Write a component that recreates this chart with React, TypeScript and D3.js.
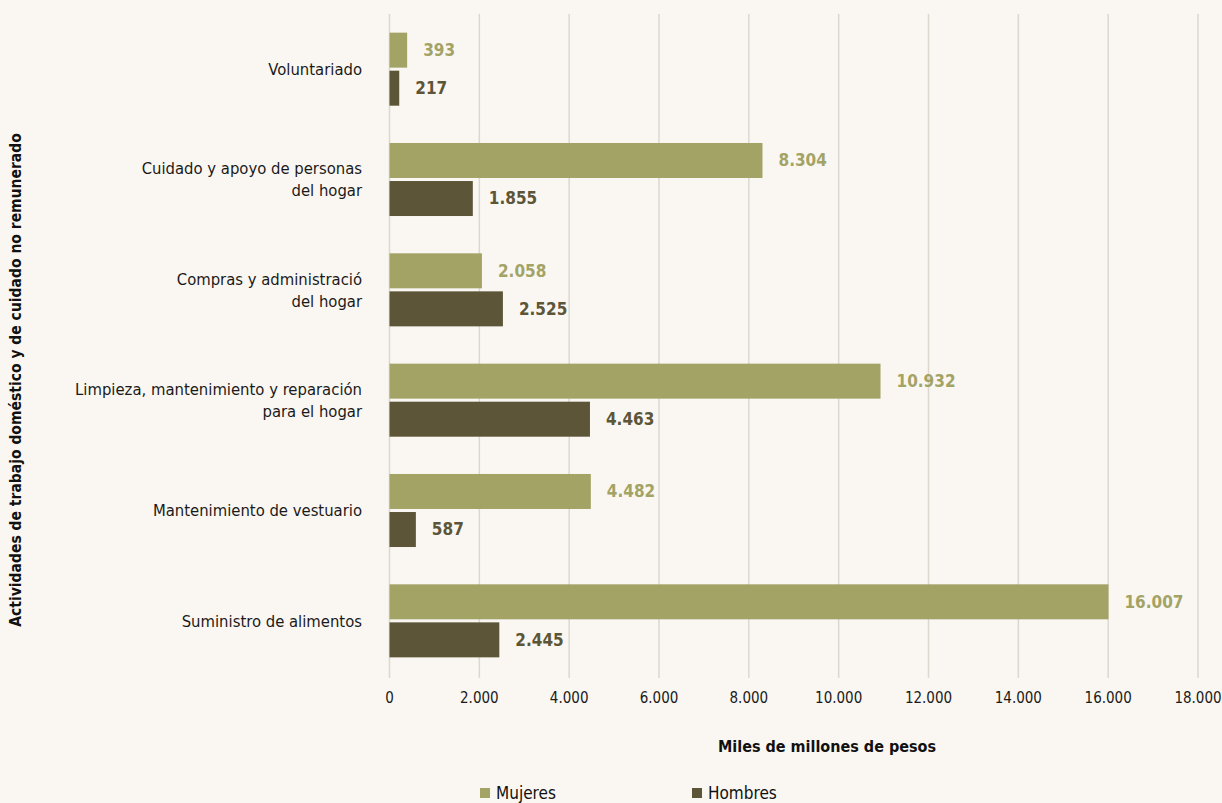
import React, { useEffect, useRef } from 'react';
import * as d3 from 'd3';

const categories = [
  'Voluntariado',
  'Cuidado y apoyo de personas\ndel hogar',
  'Compras y administració\ndel hogar',
  'Limpieza, mantenimiento y reparación\npara el hogar',
  'Mantenimiento de vestuario',
  'Suministro de alimentos',
];
const mujeres = [393, 8304, 2058, 10932, 4482, 16007];
const hombres = [217, 1855, 2525, 4463, 587, 2445];
const xTicks = [0, 2000, 4000, 6000, 8000, 10000, 12000, 14000, 16000, 18000];
const seriesNames = ['Mujeres', 'Hombres'];

const W = 1222;
const H = 803;
const FONT = "'Liberation Sans Narrow', 'DejaVu Sans Condensed', 'Roboto', sans-serif";
const GREEN = '#a3a366';
const DARK = '#5c5538';

const fmt = (v: number) => d3.format(',')(v).replace(/,/g, '.');

const App: React.FC = () => {
  const svgRef = useRef<SVGSVGElement>(null);

  useEffect(() => {
    if (!svgRef.current) return;
    const svg = d3.select(svgRef.current);
    svg.selectAll('*').remove();

    const left = 389.5;
    const right = 1198;
    const top = 14;
    const bottom = 676;

    svg.append('rect').attr('width', W).attr('height', H).attr('fill', '#faf7f2');

    const x = d3.scaleLinear().domain([0, 18000]).range([left, right]);
    const y = d3.scaleBand().domain(categories).range([top, bottom]).paddingInner(0.338).paddingOuter(0.169);
    const inner = d3.scaleBand().domain(seriesNames).range([0, y.bandwidth()]).paddingInner(0.08);

    // gridlines
    svg.append('g').selectAll('line').data(xTicks).join('line')
      .attr('x1', d => x(d)).attr('x2', d => x(d))
      .attr('y1', top).attr('y2', bottom + 2)
      .attr('stroke', '#dcd8d0').attr('stroke-width', 1.5);

    // tick labels
    svg.append('g').selectAll('text').data(xTicks).join('text')
      .attr('x', d => x(d)).attr('y', 703)
      .attr('text-anchor', 'middle')
      .attr('font-family', FONT).attr('font-size', 15).attr('fill', '#1a1a1a')
      .text(d => fmt(d));

    const series = [
      { name: 'Mujeres', values: mujeres, color: GREEN },
      { name: 'Hombres', values: hombres, color: DARK },
    ];

    series.forEach(s => {
      const g = svg.append('g');
      g.selectAll('rect').data(categories).join('rect')
        .attr('x', x(0))
        .attr('y', c => (y(c) as number) + (inner(s.name) as number))
        .attr('width', (c, i) => x(s.values[i]) - x(0))
        .attr('height', inner.bandwidth())
        .attr('fill', s.color);
      g.selectAll('text').data(categories).join('text')
        .attr('x', (c, i) => x(s.values[i]) + 16)
        .attr('y', c => (y(c) as number) + (inner(s.name) as number) + inner.bandwidth() / 2)
        .attr('dy', '0.35em')
        .attr('font-family', FONT).attr('font-size', 17).attr('font-weight', 'bold')
        .attr('fill', s.color)
        .text((c, i) => fmt(s.values[i]));
    });

    // category labels
    const cl = svg.append('g');
    categories.forEach(c => {
      const lines = c.split('\n');
      const cy = (y(c) as number) + y.bandwidth() / 2;
      const lh = 22;
      const t = cl.append('text')
        .attr('text-anchor', 'end')
        .attr('font-family', FONT).attr('font-size', 16.5).attr('fill', '#1a1a1a');
      lines.forEach((ln, i) => {
        t.append('tspan').attr('x', 362)
          .attr('y', cy + (i - (lines.length - 1) / 2) * lh)
          .attr('dy', '0.35em').text(ln);
      });
    });

    // axis titles
    svg.append('text')
      .attr('x', 827).attr('y', 752)
      .attr('text-anchor', 'middle')
      .attr('font-family', FONT).attr('font-size', 16).attr('font-weight', 'bold').attr('fill', '#111')
      .text('Miles de millones de pesos');

    svg.append('text')
      .attr('transform', `translate(21, ${(top + bottom) / 2 + 35}) rotate(-90)`)
      .attr('text-anchor', 'middle')
      .attr('font-family', FONT).attr('font-size', 15.5).attr('font-weight', 'bold').attr('fill', '#111')
      .text('Actividades de trabajo doméstico y de cuidado no remunerado');

    // legend
    const legend = svg.append('g');
    const lx = [480, 692];
    series.forEach((s, i) => {
      legend.append('rect').attr('x', lx[i]).attr('y', 788).attr('width', 10).attr('height', 10).attr('fill', s.color);
      legend.append('text').attr('x', lx[i] + 16).attr('y', 793).attr('dy', '0.35em')
        .attr('font-family', FONT).attr('font-size', 17).attr('fill', '#111')
        .text(s.name);
    });
  }, []);

  return (
    <div style={{ position: 'fixed', left: 0, top: 0 }}>
      <svg ref={svgRef} width={W} height={H} style={{ display: 'block' }}></svg>
    </div>
  );
};

export default App;
